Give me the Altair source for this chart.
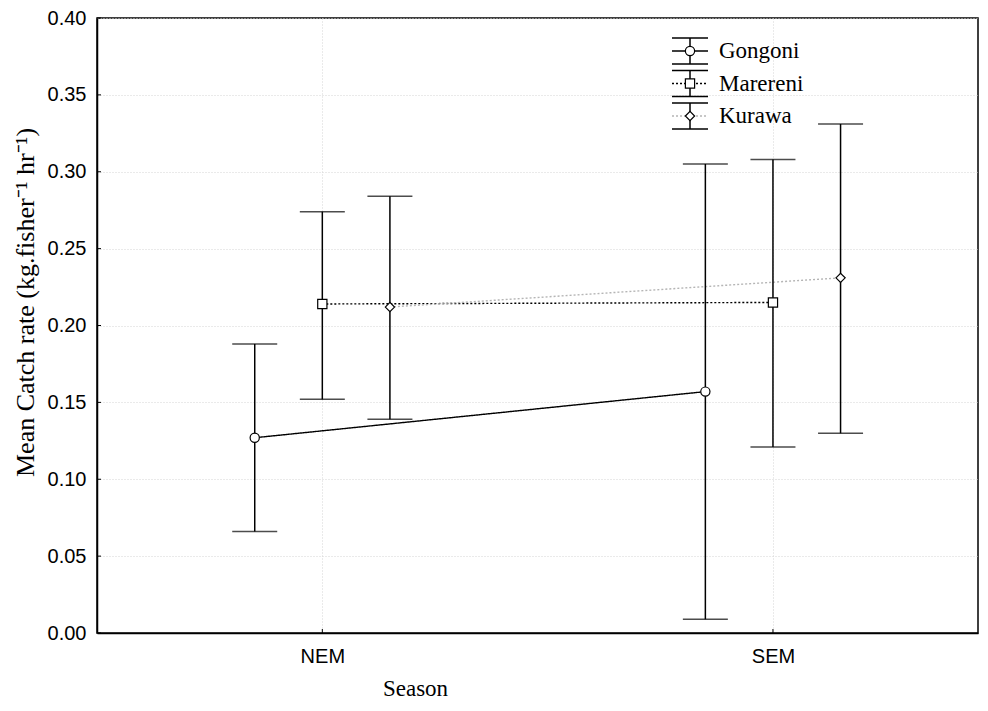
import altair as alt
import pandas as pd

seasons = ["NEM", "SEM"]
sites = ["Gongoni", "Marereni", "Kurawa"]

mean_gongoni = [0.127, 0.157]
mean_marereni = [0.214, 0.215]
mean_kurawa = [0.212, 0.231]

low_gongoni = [0.066, 0.009]
low_marereni = [0.152, 0.121]
low_kurawa = [0.139, 0.130]

high_gongoni = [0.188, 0.305]
high_marereni = [0.274, 0.308]
high_kurawa = [0.284, 0.331]

y_ticks = [0.00, 0.05, 0.10, 0.15, 0.20, 0.25, 0.30, 0.35, 0.40]

means = [mean_gongoni, mean_marereni, mean_kurawa]
lows = [low_gongoni, low_marereni, low_kurawa]
highs = [high_gongoni, high_marereni, high_kurawa]

rows = []
for gi, site in enumerate(sites):
    for si, season in enumerate(seasons):
        rows.append(dict(site=site, season=season, sidx=si + 1, gidx=gi - 1,
                         mean=means[gi][si], lo=lows[gi][si], hi=highs[gi][si]))
df = pd.DataFrame(rows)

label_expr = "[" + ",".join("'%s'" % s for s in seasons) + "][datum.value - 1]"

xscale = alt.Scale(domain=[0.5, 2.455], nice=False, zero=False)
yscale = alt.Scale(domain=[0, 0.4], nice=False)

xaxis = alt.Axis(values=[1, 2], labelExpr=label_expr, grid=True, gridDash=[1, 2],
                 gridColor="#d4d4d4", ticks=False, domain=True, domainColor="black",
                 domainWidth=1.5, labelPadding=13,
                 titlePadding=11, titleX=318, titleAlign="center",
                 labelFont="Liberation Sans", labelFontSize=20,
                 titleFont="Liberation Serif", titleFontSize=23, titleFontWeight="normal",
                 labelColor="black", titleColor="black")
yaxis = alt.Axis(values=y_ticks, format=".2f", grid=True, gridDash=[1, 2],
                 gridColor="#d4d4d4", ticks=False, domain=True, domainColor="black",
                 domainWidth=1.5, labelPadding=11,
                 titlePadding=9, titleY=284, titleAlign="center",
                 labelFont="Liberation Sans", labelFontSize=20,
                 titleFont="Liberation Serif", titleFontSize=26, titleFontWeight="normal",
                 labelColor="black", titleColor="black")

base = alt.Chart(df).transform_calculate(pos="datum.sidx + 0.15 * datum.gidx")

X = alt.X("pos:Q", scale=xscale, axis=xaxis, title="Season")
Y = alt.Y("mean:Q", scale=yscale, axis=yaxis, title="Mean Catch rate (kg.fisher⁻¹ hr⁻¹)")

lines = base.mark_line(strokeWidth=1.4).encode(
    x=X, y=Y,
    detail="site:N",
    color=alt.Color("site:N", scale=alt.Scale(domain=sites, range=["black", "black", "#b5b5b5"]), legend=None),
    strokeDash=alt.StrokeDash("site:N", scale=alt.Scale(domain=sites, range=[[1, 0], [2, 2], [2, 2]]), legend=None),
)

bars = base.mark_rule(color="black", strokeWidth=1.5).encode(
    x=alt.X("pos:Q", scale=xscale), y=alt.Y("lo:Q", scale=yscale), y2="hi:Q")
caps_hi = base.mark_tick(orient="horizontal", size=45, thickness=1.5, color="black").encode(
    x=alt.X("pos:Q", scale=xscale), y=alt.Y("hi:Q", scale=yscale))
caps_lo = base.mark_tick(orient="horizontal", size=45, thickness=1.5, color="black").encode(
    x=alt.X("pos:Q", scale=xscale), y=alt.Y("lo:Q", scale=yscale))

points = base.mark_point(filled=False, fill="white", fillOpacity=1, stroke="black",
                         strokeWidth=1.2, size=85, opacity=1).encode(
    x=alt.X("pos:Q", scale=xscale), y=alt.Y("mean:Q", scale=yscale),
    shape=alt.Shape("site:N", scale=alt.Scale(domain=sites, range=["circle", "square", "diamond"]), legend=None),
)

# inward ticks
ytick_df = pd.DataFrame({"v": y_ticks})
yticks_l = alt.Chart(ytick_df).mark_rule(color="black", strokeWidth=1).encode(
    y=alt.Y("v:Q", scale=yscale), x=alt.value(0), x2=alt.value(4))
xtick_df = pd.DataFrame({"s": [1, 2]})
xticks_l = alt.Chart(xtick_df).mark_rule(color="black", strokeWidth=1).encode(
    x=alt.X("s:Q", scale=xscale), y=alt.value(615), y2=alt.value(611))

# manual legend
leg_colors = ["black", "black", "#b5b5b5"]
leg_dash = [[1, 0], [2, 2], [2, 2]]
leg_shapes = ["circle", "square", "diamond"]
legend_layers = []
for i, site in enumerate(sites):
    cy = 33 + i * 32.5
    d = pd.DataFrame({"site": [site]})
    c = alt.Chart(d)
    legend_layers += [
        c.mark_rule(color=leg_colors[i], strokeDash=leg_dash[i], strokeWidth=1.3).encode(
            x=alt.value(575), x2=alt.value(611), y=alt.value(cy)),
        c.mark_rule(color="black", strokeWidth=1.5).encode(
            x=alt.value(593), y=alt.value(cy - 13), y2=alt.value(cy + 13)),
        c.mark_rule(color="black", strokeWidth=1.5).encode(
            x=alt.value(575), x2=alt.value(611), y=alt.value(cy - 13)),
        c.mark_rule(color="black", strokeWidth=1.5).encode(
            x=alt.value(575), x2=alt.value(611), y=alt.value(cy + 13)),
        c.mark_point(shape=leg_shapes[i], filled=False, fill="white", fillOpacity=1,
                     stroke="black", strokeWidth=1.2, size=85, opacity=1).encode(
            x=alt.value(593), y=alt.value(cy)),
        c.mark_text(align="left", baseline="middle", font="Liberation Serif", fontSize=23,
                    color="black").encode(x=alt.value(622), y=alt.value(cy), text="site:N"),
    ]

chart = alt.layer(lines, bars, caps_hi, caps_lo, points, yticks_l, xticks_l, *legend_layers).properties(
    width=881, height=615,
    padding={"left": 89, "top": 10, "right": 2, "bottom": 70},
    autosize=alt.AutoSizeParams(type="none"),
).configure(background="white").configure_view(stroke="black", strokeWidth=1.5)

chart.save("out.html", embed_options={"renderer": "svg", "actions": False})
